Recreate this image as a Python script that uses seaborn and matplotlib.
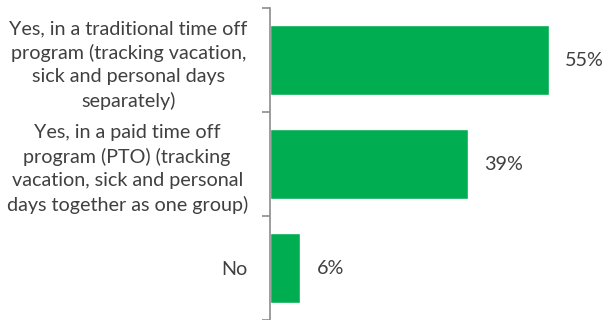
import matplotlib
matplotlib.use("Agg")
import matplotlib.pyplot as plt
import seaborn as sns
import pandas as pd

categories = [
    "Yes, in a traditional time off\nprogram (tracking vacation,\nsick and personal days\nseparately)",
    "Yes, in a paid time off\nprogram (PTO) (tracking\nvacation, sick and personal\ndays together as one group)",
    "No",
]
values = [55, 39, 6]
value_labels = ["55%", "39%", "6%"]

sns.set_theme(style="white")
plt.rcParams["font.family"] = ["Lato", "DejaVu Sans"]

df = pd.DataFrame({"category": categories, "value": values})

fig = plt.figure(figsize=(6.04, 3.2), dpi=100)
ax = fig.add_axes([270 / 604, 0.0, 304 / 604, 1 - 8 / 320])

sns.barplot(data=df, x="value", y="category", orient="h", color="#00AD50",
            saturation=1, width=0.68, ax=ax)

ax.set_xlim(0, 60)
ax.set_ylim(2.5, -0.5)
ax.set_xlabel("")
ax.set_ylabel("")
ax.set_xticks([])

for s in ["top", "right", "bottom"]:
    ax.spines[s].set_visible(False)
ax.spines["left"].set_color("#8c8c8c")
ax.spines["left"].set_linewidth(1.2)

# category boundaries carry the tick marks, centres carry the labels
ax.set_yticks([-0.5, 0.5, 1.5, 2.5])
ax.set_yticklabels([])
ax.tick_params(axis="y", which="major", direction="out", length=6,
               width=1.2, color="#8c8c8c", left=True)
ax.set_yticks([0, 1, 2], minor=True)
ax.set_yticklabels(categories, minor=True)
ax.tick_params(axis="y", which="minor", length=0, pad=16,
               labelsize=14.2, labelcolor="#404040")
for t in ax.get_yticklabels(minor=True):
    t.set_multialignment("center")
    t.set_linespacing(1.45)

for i, (v, lab) in enumerate(zip(values, value_labels)):
    ax.text(v + 3.2, i, lab, va="center", ha="left", fontsize=14.2,
            color="#404040")

fig.savefig("out.png", dpi=100)
